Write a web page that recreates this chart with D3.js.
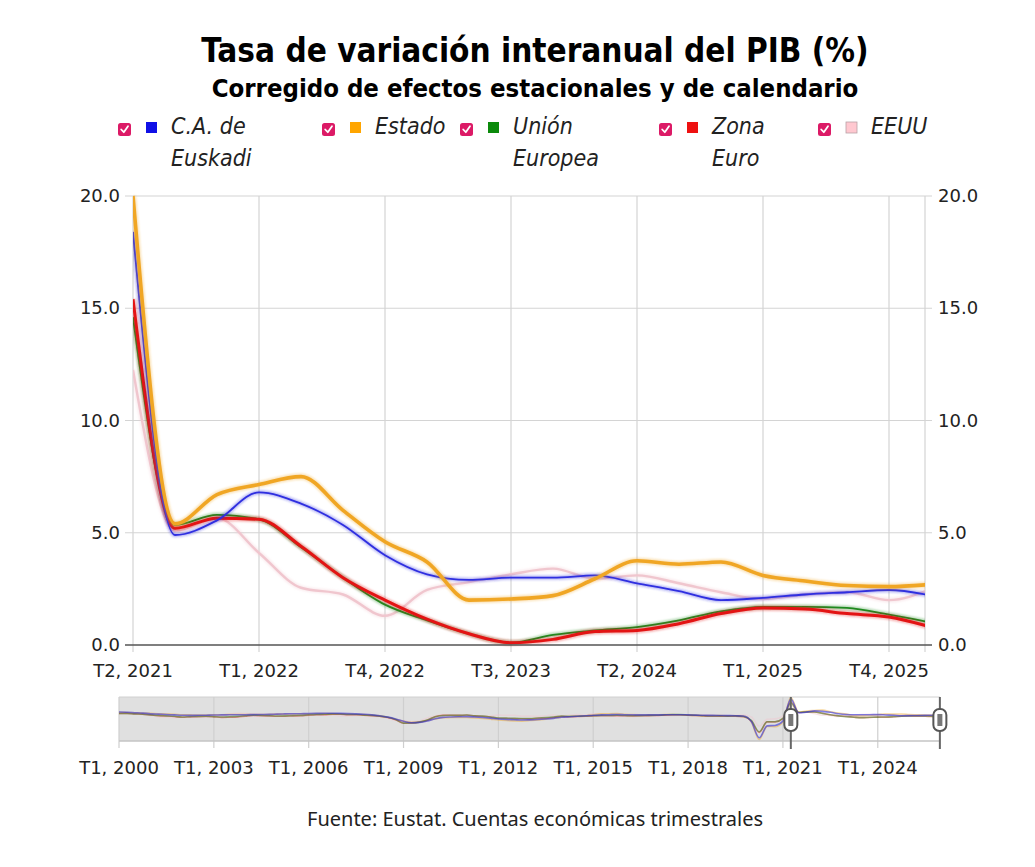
<!DOCTYPE html>
<html>
<head>
<meta charset="utf-8">
<script src="https://cdn.jsdelivr.net/npm/d3@7"></script>
<style>
  body { margin: 0; background: #fff; }
  svg { display: block; }
</style>
</head>
<body>
<div id="chart"></div>
<script>
// quarters shown in the main chart
const quarters = ['T2, 2021', 'T3, 2021', 'T4, 2021', 'T1, 2022', 'T2, 2022', 'T3, 2022', 'T4, 2022',
  'T1, 2023', 'T2, 2023', 'T3, 2023', 'T4, 2023', 'T1, 2024', 'T2, 2024', 'T3, 2024', 'T4, 2024',
  'T1, 2025', 'T2, 2025', 'T3, 2025', 'T4, 2025', 'T1, 2026'];

const seriesNames = ['C.A. de Euskadi', 'Estado', 'Unión Europea', 'Zona Euro', 'EEUU'];

const euskadi = [18.4, 4.9, 5.55, 6.8, 6.3, 5.35, 4.0, 3.15, 2.9, 3.0, 3.0, 3.1, 2.75, 2.4, 2.0, 2.1, 2.25, 2.35, 2.45, 2.2];
const estado = [20.0, 5.4, 6.7, 7.15, 7.5, 6.0, 4.6, 3.7, 2.0, 2.05, 2.2, 2.95, 3.75, 3.6, 3.7, 3.1, 2.85, 2.65, 2.6, 2.7];
const ue = [14.6, 5.35, 5.8, 5.6, 4.35, 3.0, 1.8, 1.1, 0.5, 0.1, 0.45, 0.65, 0.8, 1.1, 1.5, 1.7, 1.7, 1.65, 1.35, 1.0];
const zonaEuro = [15.4, 5.2, 5.65, 5.6, 4.4, 3.0, 2.0, 1.15, 0.5, 0.1, 0.25, 0.6, 0.65, 0.95, 1.4, 1.65, 1.6, 1.4, 1.25, 0.8];
const eeuu = [12.25, 5.1, 5.65, 4.1, 2.55, 2.25, 1.3, 2.45, 2.8, 3.15, 3.4, 2.95, 3.1, 2.75, 2.35, 2.05, 2.25, 2.35, 2.0, 2.5];

// earlier quarters (T1 2000 .. T1 2021), only seen in the range navigator
const euskadiPrev = [5.6, 5.4, 5.0, 4.6, 4.0, 3.6, 3.2, 2.8, 2.4, 2.3, 2.4, 2.5, 2.7, 2.8, 2.9, 3.0,
  3.0, 3.1, 3.2, 3.3, 3.6, 3.8, 3.9, 4.0, 4.2, 4.3, 4.4, 4.4, 4.3, 4.1, 3.8, 3.4,
  2.8, 1.9, 0.6, -1.2, -3.5, -5.0, -4.6, -3.2, -1.0, 0.4, 0.8, 1.0, 1.1, 0.8, 0.3, -0.4,
  -1.2, -1.7, -2.0, -2.3, -2.1, -1.8, -1.3, -0.6, 0.5, 1.0, 1.4, 1.9, 2.5, 2.8, 3.0, 3.2,
  3.0, 2.9, 2.8, 2.8, 2.8, 2.9, 3.0, 3.0, 2.8, 2.6, 2.4, 2.3, 2.2, 2.1, 1.9, 1.7,
  -3.8, -19.8, -8.0, -7.6, -3.2];
const estadoPrev = [5.3, 5.2, 5.0, 4.6, 4.3, 4.0, 3.7, 3.4, 2.9, 2.8, 2.7, 2.7, 3.0, 3.0, 3.1, 3.2,
  3.2, 3.2, 3.1, 3.3, 3.6, 3.6, 3.7, 3.8, 4.0, 4.1, 4.1, 4.1, 4.0, 3.8, 3.5, 3.2,
  2.6, 1.8, 0.4, -1.4, -3.4, -4.5, -4.1, -2.8, -1.2, 0.0, 0.2, 0.4, 0.2, -0.2, -0.7, -1.4,
  -2.3, -2.8, -3.1, -3.3, -2.8, -2.1, -1.4, -0.3, 0.6, 1.2, 1.7, 2.0, 3.0, 3.8, 4.0, 4.1,
  3.5, 3.1, 2.9, 2.8, 2.9, 3.1, 3.1, 3.0, 2.5, 2.3, 2.2, 2.2, 2.1, 2.0, 1.9, 1.7,
  -4.2, -21.5, -8.6, -8.8, -4.2];
const uePrev = [4.2, 4.3, 3.8, 3.4, 2.8, 2.2, 1.8, 1.4, 0.8, 1.1, 1.3, 1.4, 1.1, 0.7, 1.0, 1.3,
  2.0, 2.6, 2.3, 2.1, 1.7, 1.8, 2.1, 2.3, 2.9, 3.3, 3.4, 3.8, 3.7, 3.2, 3.2, 2.6,
  2.3, 1.5, 0.4, -1.8, -5.3, -5.2, -4.3, -2.3, 1.0, 2.2, 2.4, 2.3, 2.7, 1.8, 1.6, 0.8,
  -0.2, -0.4, -0.6, -0.7, -0.8, -0.2, 0.1, 0.7, 1.6, 1.3, 1.5, 1.7, 2.0, 2.3, 2.2, 2.4,
  2.2, 2.0, 2.1, 2.3, 2.4, 2.8, 3.1, 3.1, 2.7, 2.4, 1.9, 1.7, 1.8, 1.6, 1.8, 1.3,
  -2.6, -13.9, -4.0, -4.0, -0.7];
const zonaEuroPrev = [4.2, 4.3, 3.8, 3.4, 2.8, 2.1, 1.7, 1.2, 0.5, 0.9, 1.1, 1.2, 0.9, 0.4, 0.6, 0.9,
  1.6, 2.2, 1.9, 1.8, 1.4, 1.5, 1.8, 2.0, 2.6, 3.0, 3.1, 3.5, 3.5, 3.0, 3.0, 2.4,
  2.1, 1.4, 0.3, -1.9, -5.4, -5.3, -4.4, -2.4, 1.0, 2.3, 2.4, 2.3, 2.7, 1.8, 1.5, 0.7,
  -0.5, -0.6, -0.9, -1.0, -1.1, -0.5, -0.2, 0.5, 1.4, 1.0, 1.2, 1.4, 1.8, 2.0, 1.9, 2.1,
  1.9, 1.8, 1.9, 2.1, 2.2, 2.6, 2.9, 3.0, 2.5, 2.2, 1.7, 1.4, 1.6, 1.4, 1.6, 1.0,
  -3.0, -14.5, -4.1, -4.1, -0.8];
const eeuuPrev = [4.2, 5.2, 4.0, 3.0, 2.3, 1.0, 0.5, 0.2, 1.4, 1.6, 2.2, 2.0, 1.8, 2.2, 3.6, 4.3,
  4.2, 3.7, 3.4, 3.2, 3.6, 3.3, 3.4, 3.0, 3.1, 2.8, 2.5, 2.6, 1.7, 2.0, 2.3, 2.5,
  1.5, 1.1, -0.5, -2.5, -3.3, -3.9, -3.3, -0.2, 1.7, 2.9, 3.0, 2.6, 1.6, 1.6, 1.0, 1.6,
  2.6, 2.4, 2.5, 1.5, 1.6, 1.3, 2.0, 2.6, 1.5, 2.6, 3.1, 2.7, 3.8, 3.3, 2.4, 1.9,
  1.4, 1.3, 1.6, 2.0, 2.0, 2.2, 2.3, 2.6, 3.0, 3.0, 3.0, 2.4, 2.2, 2.1, 2.3, 2.6,
  0.8, -8.4, -1.5, -1.1, 1.6];

const navTickLabels = ['T1, 2000', 'T1, 2003', 'T1, 2006', 'T1, 2009', 'T1, 2012', 'T1, 2015',
  'T1, 2018', 'T1, 2021', 'T1, 2024'];
const yTicks = [0, 5, 10, 15, 20];

const colors = ['#2f2fe0', '#f0a624', '#1f8a1f', '#e31414', '#f0c6ce'];
const swatch = ['#1010e6', '#ffa500', '#0b8a0b', '#ee1111', '#ffc8d0'];
const widths = [1.8, 3.6, 1.8, 3.0, 2.4];
const drawOrder = [4, 2, 3, 0, 1];

const width = 1035, height = 867;
const margin = { left: 133, right: 925, top: 196, bottom: 645 };

const mainSeries = [euskadi, estado, ue, zonaEuro, eeuu];
const prevSeries = [euskadiPrev, estadoPrev, uePrev, zonaEuroPrev, eeuuPrev];

const svg = d3.select('#chart').append('svg')
  .attr('width', width)
  .attr('height', height)
  .style('font-family', '"DejaVu Sans", Verdana, sans-serif');

const defs = svg.append('defs');
defs.append('clipPath').attr('id', 'plotClip')
  .append('rect')
  .attr('x', margin.left).attr('y', margin.top - 10)
  .attr('width', margin.right - margin.left).attr('height', margin.bottom - margin.top + 20);
defs.append('filter').attr('id', 'soft')
  .attr('x', '-5%').attr('y', '-5%').attr('width', '110%').attr('height', '110%')
  .append('feGaussianBlur').attr('stdDeviation', 1.3);

// titles
svg.append('text')
  .attr('x', 535).attr('y', 62)
  .attr('text-anchor', 'middle')
  .style('font-family', '"DejaVu Sans Condensed", "DejaVu Sans", sans-serif')
  .style('font-weight', 'bold')
  .style('font-size', '33px')
  .text('Tasa de variación interanual del PIB (%)');

svg.append('text')
  .attr('x', 535).attr('y', 97)
  .attr('text-anchor', 'middle')
  .style('font-family', '"DejaVu Sans Condensed", "DejaVu Sans", sans-serif')
  .style('font-weight', 'bold')
  .style('font-size', '25.5px')
  .text('Corregido de efectos estacionales y de calendario');

// legend
const legendX = [118, 322, 460, 659, 818];
const legend = svg.append('g');
seriesNames.forEach((name, i) => {
  const g = legend.append('g').attr('transform', `translate(${legendX[i]},0)`);
  g.append('rect')
    .attr('x', 0).attr('y', 123).attr('width', 13).attr('height', 13).attr('rx', 2.5)
    .attr('fill', '#dc1a66');
  g.append('path')
    .attr('d', 'M3.2,129.5 L5.8,132.2 L10,126.2')
    .attr('fill', 'none').attr('stroke', '#fff').attr('stroke-width', 1.8)
    .attr('stroke-linecap', 'round').attr('stroke-linejoin', 'round');
  g.append('rect')
    .attr('x', 28).attr('y', 122).attr('width', 11).attr('height', 11)
    .attr('fill', swatch[i])
    .attr('stroke', i === 4 ? '#b9a0a6' : 'none').attr('stroke-width', 0.8);
  const t = g.append('text')
    .attr('x', 53).attr('y', 134)
    .style('font-style', 'italic')
    .style('font-family', '"DejaVu Sans Condensed", "DejaVu Sans", sans-serif')
    .style('font-size', '23px')
    .attr('fill', '#222');
  // greedy word wrap
  const words = name.split(' ');
  let line = [];
  let tspan = t.append('tspan').attr('x', 53).attr('dy', 0);
  words.forEach(w => {
    line.push(w);
    tspan.text(line.join(' '));
    if (tspan.node().getComputedTextLength() > 92 && line.length > 1) {
      line.pop();
      tspan.text(line.join(' '));
      line = [w];
      tspan = t.append('tspan').attr('x', 53).attr('dy', 32).text(w);
    }
  });
});

// scales
const x = d3.scaleLinear().domain([0, (margin.right - margin.left) / 42]).range([margin.left, margin.right]);
const y = d3.scaleLinear().domain([0, 20]).range([margin.bottom, margin.top]);

// grid
const grid = svg.append('g');
grid.selectAll('line.h').data(yTicks.filter(d => d > 0)).join('line')
  .attr('x1', margin.left - 8).attr('x2', margin.right + 7)
  .attr('y1', d => y(d)).attr('y2', d => y(d))
  .attr('stroke', '#d4d4d4').attr('stroke-width', 1.2);
const xTickIdx = d3.range(0, quarters.length, 3).filter(i => x(i) <= margin.right);
grid.selectAll('line.v').data(xTickIdx).join('line')
  .attr('x1', d => x(d)).attr('x2', d => x(d))
  .attr('y1', margin.top).attr('y2', margin.bottom + 7)
  .attr('stroke', '#d4d4d4').attr('stroke-width', 1.2);
grid.append('line')
  .attr('x1', margin.right).attr('x2', margin.right)
  .attr('y1', margin.top).attr('y2', margin.bottom + 7)
  .attr('stroke', '#d4d4d4').attr('stroke-width', 1.2);

// lines
const line = d3.line()
  .x((d, i) => x(i))
  .y(d => y(d))
  .curve(d3.curveMonotoneX);

const plot = svg.append('g').attr('clip-path', 'url(#plotClip)');
drawOrder.forEach(k => {
  plot.append('path')
    .datum(mainSeries[k])
    .attr('d', line)
    .attr('fill', 'none')
    .attr('stroke', colors[k])
    .attr('stroke-opacity', 0.35)
    .attr('stroke-width', widths[k] + 2.5)
    .attr('filter', 'url(#soft)');
  plot.append('path')
    .datum(mainSeries[k])
    .attr('d', line)
    .attr('fill', 'none')
    .attr('stroke', colors[k])
    .attr('stroke-width', widths[k])
    .attr('stroke-linejoin', 'round');
});

// baseline
svg.append('line')
  .attr('x1', margin.left - 8).attr('x2', margin.right + 7)
  .attr('y1', y(0)).attr('y2', y(0))
  .attr('stroke', '#555').attr('stroke-width', 1.5);

// axis labels
const fmt = d3.format('.1f');
svg.append('g').selectAll('text').data(yTicks).join('text')
  .attr('x', 120).attr('y', d => y(d) + 6)
  .attr('text-anchor', 'end')
  .style('font-size', '18px').attr('fill', '#222')
  .text(d => fmt(d));
svg.append('g').selectAll('text').data(yTicks).join('text')
  .attr('x', 938).attr('y', d => y(d) + 6)
  .attr('text-anchor', 'start')
  .style('font-size', '18px').attr('fill', '#222')
  .text(d => fmt(d));
svg.append('g').selectAll('text').data(xTickIdx).join('text')
  .attr('x', d => x(d)).attr('y', 677)
  .attr('text-anchor', 'middle')
  .style('font-size', '18px').attr('fill', '#222')
  .text(d => quarters[d]);

// range navigator
const navTop = 697, navBottom = 741;
const navAll = prevSeries.map((p, k) => p.concat(mainSeries[k]));
const nx = d3.scaleLinear().domain([0, 104]).range([119, 941]);
const ny = d3.scaleLinear().domain([-22, 20]).range([navBottom - 1, navTop + 0.5]);
const selStart = nx(euskadiPrev.length);
const selEnd = nx(euskadiPrev.length + x.domain()[1]);

const nav = svg.append('g');
nav.append('rect')
  .attr('x', 119).attr('y', navTop)
  .attr('width', selStart - 119).attr('height', navBottom - navTop)
  .attr('fill', '#e0e0e0');
nav.selectAll('line.g').data(navTickLabels).join('line')
  .attr('x1', (d, i) => nx(i * 12)).attr('x2', (d, i) => nx(i * 12))
  .attr('y1', navTop).attr('y2', navBottom + 7)
  .attr('stroke', '#cfcfcf').attr('stroke-width', 1.2);
nav.append('line')
  .attr('x1', 119).attr('x2', selEnd).attr('y1', navTop).attr('y2', navTop)
  .attr('stroke', '#d0d0d0');
nav.append('line')
  .attr('x1', 119).attr('x2', selEnd).attr('y1', navBottom).attr('y2', navBottom)
  .attr('stroke', '#c4c4c4').attr('stroke-width', 1.5);

const navLine = d3.line()
  .x((d, i) => nx(i))
  .y(d => ny(d))
  .curve(d3.curveMonotoneX);
defs.append('clipPath').attr('id', 'navClip')
  .append('rect').attr('x', 119).attr('y', navTop - 2)
  .attr('width', selEnd - 119).attr('height', navBottom - navTop + 4);
const navLines = nav.append('g').attr('clip-path', 'url(#navClip)');
[4, 1, 3, 2, 0].forEach(k => {
  navLines.append('path')
    .datum(navAll[k])
    .attr('d', navLine)
    .attr('fill', 'none')
    .attr('stroke', colors[k])
    .attr('stroke-opacity', k === 0 ? 0.6 : 0.45)
    .attr('stroke-width', 1.6);
});

[selStart, selEnd].forEach(px => {
  nav.append('line')
    .attr('x1', px).attr('x2', px).attr('y1', navTop).attr('y2', navBottom + 8)
    .attr('stroke', '#666').attr('stroke-width', 2);
  nav.append('rect')
    .attr('x', px - 6.5).attr('y', 709).attr('width', 13).attr('height', 22).attr('rx', 6)
    .attr('fill', '#fff').attr('stroke', '#555').attr('stroke-width', 2);
  nav.append('rect')
    .attr('x', px - 2.5).attr('y', 714).attr('width', 5).attr('height', 12)
    .attr('fill', '#777');
});

nav.selectAll('text').data(navTickLabels).join('text')
  .attr('x', (d, i) => nx(i * 12)).attr('y', 774)
  .attr('text-anchor', 'middle')
  .style('font-size', '18px').attr('fill', '#222')
  .text(d => d);

// source
svg.append('text')
  .attr('x', 535).attr('y', 826)
  .attr('text-anchor', 'middle')
  .style('font-family', '"Noto Sans", sans-serif')
  .style('font-size', '20px')
  .attr('fill', '#222')
  .text('Fuente: Eustat. Cuentas económicas trimestrales');
</script>
</body>
</html>
